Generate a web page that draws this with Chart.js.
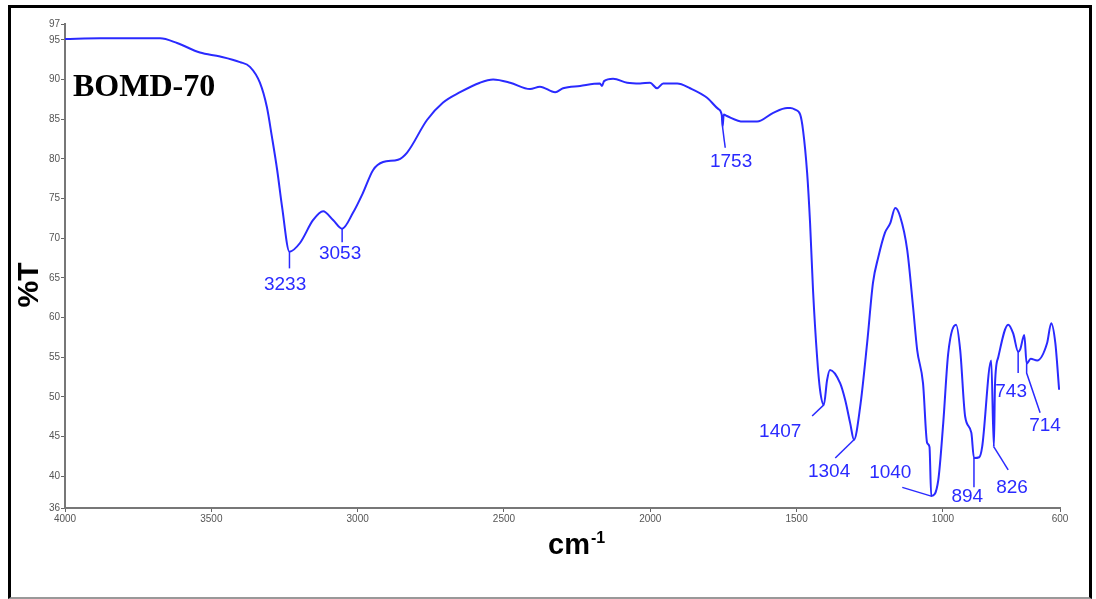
<!DOCTYPE html>
<html>
<head>
<meta charset="utf-8">
<title>BOMD-70 FTIR</title>
<script src="https://cdn.jsdelivr.net/npm/chart.js@4.4.1/dist/chart.umd.min.js"></script>
<style>
  html, body { margin: 0; padding: 0; background: #fff; }
  #wrap { position: relative; width: 1096px; height: 599px; overflow: hidden; }
  #spectrum { position: absolute; left: 0; top: 0; }
  #frame { position: absolute; left: 8px; top: 5px; width: 1078px; height: 589px;
           border: 3px solid #000; border-bottom: 2px solid #999; pointer-events: none; }
</style>
</head>
<body>
<div id="wrap">
  <canvas id="spectrum" width="1096" height="599"></canvas>
  <div id="frame"></div>
</div>
<script>
// FTIR spectrum, wavenumber (cm-1) vs transmittance (%T)
var wavenumber = [4000, 3880, 3675, 3617, 3539, 3470, 3402, 3368, 3334, 3310, 3293, 3275, 3258, 3233,
  3197, 3152, 3118, 3084, 3053, 3016, 2982, 2947, 2913, 2862, 2831, 2763, 2708, 2650, 2582, 2537,
  2479, 2411, 2377, 2325, 2298, 2240, 2172, 2165, 2158, 2127, 2079, 2035, 2001, 1977, 1956, 1908,
  1864, 1806, 1768, 1756, 1753, 1749, 1738, 1683, 1635, 1580, 1532, 1522, 1505, 1488, 1478, 1464,
  1454, 1444, 1430, 1420, 1407, 1396, 1386, 1351, 1334, 1317, 1304, 1283, 1259, 1239, 1221, 1198,
  1180, 1163, 1146, 1122, 1102, 1088, 1068, 1054, 1046, 1040, 1016, 999, 982, 955, 941, 924, 903,
  894, 876, 866, 835, 826, 822, 811, 777, 760, 743, 736, 722, 714, 700, 678, 644, 630, 616, 603];
var transmittance = [95.1, 95.2, 95.2, 94.6, 93.4, 92.9, 92.2, 91.6, 89.6, 86.5, 82.8, 78.6, 73.9, 68.3,
  69.4, 72.3, 73.4, 72.3, 71.2, 73.2, 75.7, 78.6, 79.6, 79.9, 80.8, 84.9, 87.1, 88.4, 89.6, 90.0,
  89.6, 88.8, 89.1, 88.4, 88.9, 89.2, 89.5, 89.2, 89.8, 90.1, 89.6, 89.5, 89.6, 88.9, 89.5, 89.5,
  88.9, 87.7, 86.3, 85.6, 84.0, 85.6, 85.4, 84.7, 84.7, 85.8, 86.4, 86.4, 86.2, 85.6, 83.6, 78.2,
  71.9, 63.5, 55.0, 50.9, 49.0, 52.1, 53.4, 51.7, 49.6, 46.7, 44.6, 48.7, 56.8, 64.4, 67.6, 70.7,
  71.9, 73.8, 72.7, 68.5, 61.3, 55.9, 51.7, 44.2, 43.7, 37.5, 39.5, 46.7, 55.5, 59.1, 55.9, 47.5, 45.5,
  42.3, 42.4, 43.7, 54.6, 43.7, 51.7, 55.0, 59.1, 58.0, 55.7, 56.0, 57.8, 54.2, 54.8, 54.6, 56.8, 59.3, 56.8, 50.9];

var xTicks = [4000, 3500, 3000, 2500, 2000, 1500, 1000, 600];
var yTicks = [36, 40, 45, 50, 55, 60, 65, 70, 75, 80, 85, 90, 95, 97];

// peak labels and their leader lines
var peakCm = [3233, 3053, 1753, 1407, 1304, 1040, 894, 826, 743, 714];
var leaderEndCm = [3233, 3053, 1744, 1447, 1368, 1139, 894, 777, 743, 668];
var leaderEndT = [66.2, 69.5, 81.4, 47.6, 42.3, 38.6, 38.6, 40.8, 53.0, 48.0];
var labelCm = [3248, 3060, 1724, 1556, 1389, 1180, 917, 764, 767, 651];
var labelT = [64.1, 68.0, 79.6, 45.6, 40.6, 40.4, 37.4, 38.6, 50.6, 46.4];

var lineBlue = '#2a2aff';

var spectrumPoints = wavenumber.map(function (w, i) { return { x: w, y: transmittance[i] }; });

var peakLabelsPlugin = {
    id: 'peakLabels',
    afterDatasetsDraw: function (chart) {
        var ctx = chart.ctx, xs = chart.scales.x, ys = chart.scales.y;
        ctx.save();
        ctx.strokeStyle = lineBlue;
        ctx.fillStyle = lineBlue;
        ctx.lineWidth = 1.5;
        ctx.font = '19px "Liberation Sans", Arial, sans-serif';
        ctx.textAlign = 'center';
        ctx.textBaseline = 'middle';
        peakCm.forEach(function (cm, i) {
            var t = transmittance[wavenumber.indexOf(cm)];
            var x0 = xs.getPixelForValue(cm), y0 = ys.getPixelForValue(t);
            ctx.beginPath();
            ctx.moveTo(x0, y0);
            if (cm === 714) {
                ctx.lineTo(x0, ys.getPixelForValue(53.0));
            }
            ctx.lineTo(xs.getPixelForValue(leaderEndCm[i]), ys.getPixelForValue(leaderEndT[i]));
            ctx.stroke();
            ctx.fillText(String(cm), xs.getPixelForValue(labelCm[i]), ys.getPixelForValue(labelT[i]));
        });
        ctx.restore();
    }
};

var axisTextPlugin = {
    id: 'axisText',
    afterDraw: function (chart) {
        var ctx = chart.ctx, area = chart.chartArea;
        ctx.save();
        ctx.fillStyle = '#000';

        // sample name
        ctx.font = 'bold 32px "Liberation Serif", "Times New Roman", serif';
        ctx.textAlign = 'left';
        ctx.textBaseline = 'alphabetic';
        ctx.fillText('BOMD-70', area.left + 8, 96);

        // y axis title
        ctx.save();
        ctx.translate(38, 285);
        ctx.rotate(-Math.PI / 2);
        ctx.font = 'bold 30px "Liberation Sans", Arial, sans-serif';
        ctx.textAlign = 'center';
        ctx.fillText('%T', 0, 0);
        ctx.restore();

        // x axis title with superscript
        ctx.font = 'bold 29px "Liberation Sans", Arial, sans-serif';
        ctx.textAlign = 'left';
        var w = ctx.measureText('cm').width;
        var sx = 569 - w / 2;
        ctx.fillText('cm', sx, 554);
        ctx.font = 'bold 16px "Liberation Sans", Arial, sans-serif';
        ctx.fillText('-1', sx + w + 1, 543);
        ctx.restore();
    }
};

new Chart(document.getElementById('spectrum'), {
    type: 'line',
    data: {
        datasets: [{
            label: 'BOMD-70',
            data: spectrumPoints,
            borderColor: lineBlue,
            borderWidth: 2,
            pointRadius: 0,
            cubicInterpolationMode: 'monotone',
            fill: false
        }]
    },
    options: {
        responsive: false,
        animation: false,
        layout: { padding: { left: 0, right: 36, top: 24, bottom: 0 } },
        plugins: { legend: { display: false }, tooltip: { enabled: false } },
        scales: {
            x: {
                type: 'linear',
                reverse: true,
                min: 600,
                max: 4000,
                afterBuildTicks: function (s) { s.ticks = xTicks.map(function (v) { return { value: v }; }); },
                afterFit: function (s) { s.height = 91; },
                grid: { drawOnChartArea: false, color: '#666', tickLength: 4 },
                border: { color: '#777', width: 2 },
                ticks: { autoSkip: false, maxRotation: 0, padding: 1, color: '#555',
                         callback: function (v) { return String(v); },
                         font: { family: '"Liberation Sans", Arial, sans-serif', size: 10 } }
            },
            y: {
                min: 36,
                max: 97,
                afterBuildTicks: function (s) { s.ticks = yTicks.map(function (v) { return { value: v }; }); },
                afterFit: function (s) { s.width = 65; },
                grid: { drawOnChartArea: false, color: '#666', tickLength: 4 },
                border: { color: '#777', width: 2 },
                ticks: { autoSkip: false, padding: 1, color: '#555',
                         font: { family: '"Liberation Sans", Arial, sans-serif', size: 10 } }
            }
        }
    },
    plugins: [peakLabelsPlugin, axisTextPlugin]
});
</script>
</body>
</html>
